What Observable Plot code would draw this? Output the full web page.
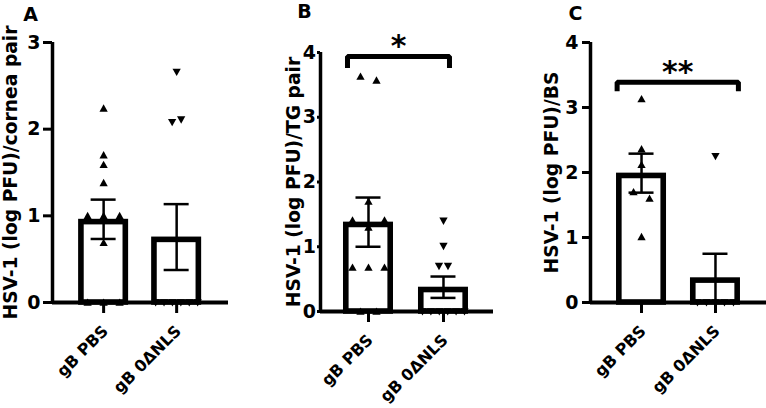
<!DOCTYPE html>
<html>
<head>
<meta charset="utf-8">
<script src="https://cdn.jsdelivr.net/npm/d3@7"></script>
<script src="https://cdn.jsdelivr.net/npm/@observablehq/plot@0.6"></script>
<style>
  body { margin: 0; background: #fff; }
  #fig { position: relative; width: 766px; height: 408px; overflow: hidden; background: #fff; }
  #fig svg { position: absolute; top: 0; }
</style>
</head>
<body>
<div id="fig"></div>
<script>
// ---------- data ----------
const groups = ["gB PBS", "gB 0\u0394NLS"];
const panelLetters = ["A", "B", "C"];
const yTitles = ["HSV-1 (log PFU)/cornea pair", "HSV-1 (log PFU)/TG pair", "HSV-1 (log PFU)/BS"];
const yMax = [3, 4, 4];
const yTicksA = [0, 1, 2, 3];
const yTicksB = [0, 1, 2, 3, 4];
const yTicksC = [0, 1, 2, 3, 4];

// Panel A: cornea
const corneaPBS = [2.24, 1.70, 1.59, 1.38, 1.0, 1.0, 1.0, 0.69, 0, 0, 0];
const corneaNLS = [2.66, 2.08, 2.11, 0, 0, 0, 0, 0, 0];
const corneaMean = [0.96, 0.755];
const corneaSem = [0.227, 0.38];

// Panel B: TG
const tgPBS = [3.63, 3.57, 1.70, 1.41, 1.30, 1.41, 0.68, 0.68, 0.68, 0, 0];
const tgNLS = [1.40, 1.01, 0.70, 0.70, 0, 0, 0, 0, 0, 0];
const tgMean = [1.38, 0.375];
const tgSem = [0.38, 0.165];

// Panel C: BS
const bsPBS = [3.13, 2.36, 2.12, 1.70, 1.60, 1.01];
const bsNLS = [2.25, 0, 0, 0, 0, 0];
const bsMean = [1.99, 0.38];
const bsSem = [0.30, 0.37];

// significance brackets (x in category units, y in log PFU)
const sigB = {x1: -0.28, x2: 1.08, top: 3.94, leg: 3.76, label: "*"};
const sigC = {x1: -0.33, x2: 1.31, top: 3.39, leg: 3.25, label: "**"};

// ---------- layout / style ----------
const FONT = "'DejaVu Sans', Verdana, sans-serif";
const panels = [
  {pts: [corneaPBS, corneaNLS], mean: corneaMean, sem: corneaSem, ticks: yTicksA, sig: null,
   left: 0, width: 240, ml: 52, mr: 12, mt: 42, mb: 106, xd: [-0.70, 1.71],
   tickSize: 9, tickPad: 3, titleDx: -41.5, letterDx: -22, letterDy: -28},
  {pts: [tgPBS, tgNLS], mean: tgMean, sem: tgSem, ticks: yTicksB, sig: sigB,
   left: 260, width: 250, ml: 60, mr: 17, mt: 52, mb: 97, xd: [-0.64, 1.667],
   tickSize: 3, tickPad: 1.5, titleDx: -26, letterDx: -16, letterDy: -41},
  {pts: [bsPBS, bsNLS], mean: bsMean, sem: bsSem, ticks: yTicksC, sig: sigC,
   left: 510, width: 256, ml: 80, mr: 0, mt: 42, mb: 106, xd: [-0.69, 1.69],
   tickSize: 8, tickPad: 4, titleDx: -38.5, letterDx: -15, letterDy: -29}
];
const H = 408;
const barStroke = 5.6;
const barHalfPx = 25;   // outer half-width of a bar, px
const capHalfPx = 12.5;

// custom triangle symbols
const triUp = {draw(ctx, size) {
  const r = Math.sqrt(size / Math.PI), w = r * 0.9, h = r * 1.6;
  ctx.moveTo(0, -h * 0.55); ctx.lineTo(w, h * 0.45); ctx.lineTo(-w, h * 0.45); ctx.closePath();
}};
const triDown = {draw(ctx, size) {
  const r = Math.sqrt(size / Math.PI), w = r * 0.9, h = r * 1.6;
  ctx.moveTo(0, h * 0.55); ctx.lineTo(w, -h * 0.45); ctx.lineTo(-w, -h * 0.45); ctx.closePath();
}};

// beeswarm-like spreading of (nearly) tied values, in px
function spreadOffsets(vals, pxY, maxGap) {
  const offs = new Array(vals.length).fill(0);
  if (!vals.length) return offs;
  const idx = vals.map((v, i) => i).sort((a, b) => vals[a] - vals[b] || a - b);
  let cluster = [idx[0]];
  const flush = () => {
    const c = cluster.slice().sort((a, b) => a - b), k = c.length;
    if (k > 1) {
      const s = Math.min(maxGap, 42 / (k - 1));
      c.forEach((j, n) => offs[j] = (n - (k - 1) / 2) * s);
    }
  };
  for (let n = 1; n < idx.length; n++) {
    const j = idx[n];
    if ((vals[j] - vals[cluster[cluster.length - 1]]) * pxY < 8) cluster.push(j);
    else { flush(); cluster = [j]; }
  }
  flush();
  return offs;
}

const fig = document.getElementById("fig");

panels.forEach((P, k) => {
  const pxY = (H - P.mt - P.mb) / yMax[k];
  const pxX = (P.width - P.ml - P.mr) / (P.xd[1] - P.xd[0]);
  const hw = (barHalfPx - barStroke / 2) / pxX;
  const cw = capHalfPx / pxX;

  const bars = groups.map((g, i) => ({i, g, mean: P.mean[i], sem: P.sem[i]}));
  const pts = [];
  P.pts.forEach((vals, i) => {
    const offs = spreadOffsets(vals, pxY, i === 0 ? 16 : 9);
    vals.forEach((v, j) => pts.push({i, v, x: i + offs[j] / pxX}));
  });

  const marks = [
    Plot.rect(bars, {x1: d => d.i - hw, x2: d => d.i + hw, y1: 0, y2: "mean",
      fill: "white", stroke: "black", strokeWidth: barStroke, insetTop: barStroke / 2}),
    Plot.ruleX(bars, {x: "i", y1: d => Math.max(0, d.mean - d.sem), y2: d => d.mean + d.sem, stroke: "black", strokeWidth: 2.5}),
    Plot.ruleY(bars, {y: d => d.mean + d.sem, x1: d => d.i - cw, x2: d => d.i + cw, stroke: "black", strokeWidth: 2.5}),
    Plot.ruleY(bars.filter(d => d.mean - d.sem > 0.05), {y: d => d.mean - d.sem, x1: d => d.i - cw, x2: d => d.i + cw, stroke: "black", strokeWidth: 2.5}),
    Plot.ruleY([0], {stroke: "black", strokeWidth: 3.8}),
    Plot.ruleX([P.xd[0]], {y1: 0, y2: yMax[k], stroke: "black", strokeWidth: 3.5}),
    Plot.axisY({ticks: P.ticks, tickSize: P.tickSize, tickFormat: () => "", strokeWidth: 3, label: null}),
    Plot.text(P.ticks, {x: P.xd[0], y: d => d, text: d => String(d), textAnchor: "end", lineAnchor: "middle",
      dx: -(P.tickSize + P.tickPad), fontSize: 19, fontWeight: "bold", fill: "black"}),
    Plot.axisX({ticks: [0, 1], tickSize: 11, strokeWidth: 3, tickFormat: () => "", label: null}),
    Plot.dot(pts.filter(d => d.i === 0), {x: "x", y: "v", symbol: triUp, r: 4.6, fill: "black", stroke: "none"}),
    Plot.dot(pts.filter(d => d.i === 1), {x: "x", y: "v", symbol: triDown, r: 4.6, fill: "black", stroke: "none"}),
    Plot.text(groups, {x: (d, i) => i, frameAnchor: "bottom", rotate: -45, textAnchor: "end", lineAnchor: "bottom",
      dx: 5.5, dy: 29.5, fontSize: 16, fontWeight: "bold", fill: "black"}),
    Plot.text([yTitles[k]], {frameAnchor: "left", rotate: -90, textAnchor: "middle", lineAnchor: "middle",
      dx: P.titleDx, fontSize: 18.7, fontWeight: "bold", fill: "black"}),
    Plot.text([panelLetters[k]], {frameAnchor: "top-left", textAnchor: "middle", lineAnchor: "middle",
      dx: P.letterDx, dy: P.letterDy, fontSize: 19, fontWeight: "bold", fill: "black"})
  ];
  if (P.sig) {
    const s = P.sig;
    const path = [{x: s.x1, y: s.leg}, {x: s.x1, y: s.top}, {x: s.x2, y: s.top}, {x: s.x2, y: s.leg}];
    marks.push(Plot.line(path, {x: "x", y: "y", stroke: "black", strokeWidth: 5, strokeLinejoin: "miter", strokeLinecap: "butt"}));
    marks.push(Plot.text([s], {x: d => (d.x1 + d.x2) / 2, y: "top", text: "label", textAnchor: "middle", lineAnchor: "bottom",
      dy: 0, fontSize: 30, fontWeight: "bold", fill: "black"}));
  }

  const svg = Plot.plot({
    width: P.width, height: H,
    marginLeft: P.ml, marginRight: P.mr, marginTop: P.mt, marginBottom: P.mb,
    x: {type: "linear", domain: P.xd},
    y: {domain: [0, yMax[k]]},
    style: {fontFamily: FONT, fontWeight: "bold", color: "black", background: "transparent", overflow: "visible"},
    marks
  });
  svg.style.left = P.left + "px";
  fig.appendChild(svg);
});
</script>
</body>
</html>
